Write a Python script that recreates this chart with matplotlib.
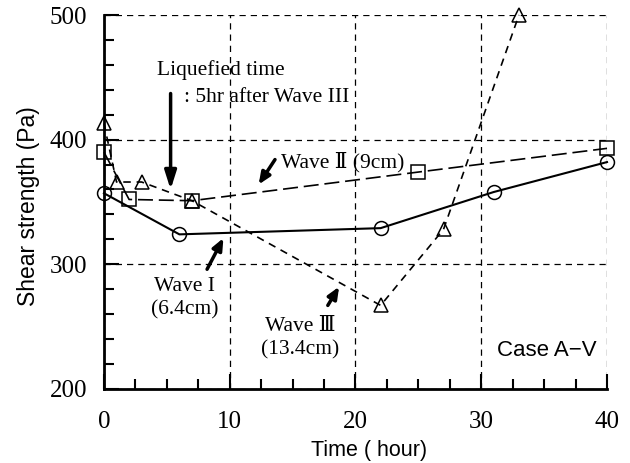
import matplotlib
matplotlib.use("Agg")
import matplotlib.pyplot as plt
from matplotlib.ticker import MultipleLocator

# Data
t_wave1 = [0, 6, 22, 31, 40]
s_wave1 = [357, 324, 329, 358, 382]

t_wave2 = [0, 2, 7, 25, 40]
s_wave2 = [390, 352, 351, 374, 393]

t_wave3 = [0, 1, 3, 7, 22, 27, 33]
s_wave3 = [413, 366, 366, 351, 267, 328, 500]

serif = ["Liberation Serif", "DejaVu Serif"]
sans = ["Liberation Sans", "DejaVu Sans"]

fig = plt.figure(figsize=(6.3, 4.63), dpi=100)
ax = fig.add_axes([0.165, 0.16, 0.7985, 0.8076])

mk = dict(markersize=10, markerfacecolor="none", markeredgecolor="black",
          markeredgewidth=1.1, color="black", clip_on=False, zorder=3)
ax.plot(t_wave1, s_wave1, "-", marker="o", lw=1.5, **mk)
ax.plot(t_wave2, s_wave2, marker="s", lw=1.2, dashes=(9, 3.5), **mk)
ax.plot(t_wave3, s_wave3, marker="^", lw=1.2, dashes=(4.5, 3.5), **mk)

ax.set_xlim(0, 40)
ax.set_ylim(200, 500)
ax.xaxis.set_major_locator(MultipleLocator(10))
ax.xaxis.set_minor_locator(MultipleLocator(2.5))
ax.yaxis.set_major_locator(MultipleLocator(100))
ax.yaxis.set_minor_locator(MultipleLocator(20))
ax.tick_params(which="major", direction="in", length=11, width=1.5,
               labelsize=18, pad=12)
ax.tick_params(which="minor", direction="in", length=7, width=1.5)
ax.tick_params(axis="x", which="major", pad=16)
ax.tick_params(top=False, right=False, which="both")
for lab in ax.get_xticklabels() + ax.get_yticklabels():
    lab.set_family(serif)

ax.grid(True, which="major", color="black", lw=0.9, dashes=(5, 4))
for side in ["top", "right"]:
    ax.spines[side].set_visible(False)
for side in ["left", "bottom"]:
    ax.spines[side].set_linewidth(2)

ax.set_xlabel("Time ( hour)", fontsize=15.5, family=sans)
ax.set_ylabel("Shear strength (Pa)", fontsize=16.5, family=sans)
ax.xaxis.set_label_coords(0.527, -0.136)
ax.yaxis.set_label_coords(-0.127, 0.49)

# annotations
ax.text(9.3, 456, "Liquefied time", fontsize=15.5, family=serif, ha="center", va="center")
ax.text(6.4, 434, ": 5hr after Wave III", fontsize=15.5, family=serif, ha="left", va="center")
ax.annotate("", xy=(5.3, 360), xytext=(5.3, 437),
            arrowprops=dict(arrowstyle="-|>,head_width=0.35,head_length=1.1",
                            lw=2.5, color="black", shrinkA=0, shrinkB=0))

ax.text(14.1, 382, "Wave \u2161 (9cm)", fontsize=15.5, family=serif, ha="left", va="center")
ax.annotate("", xy=(12.3, 364), xytext=(13.6, 384),
            arrowprops=dict(arrowstyle="-|>,head_width=0.3,head_length=0.7",
                            lw=2.5, color="black", shrinkA=0, shrinkB=0))

ax.text(6.4, 273, "Wave I\n(6.4cm)", fontsize=15.5, family=serif, ha="center",
        va="center", linespacing=1.3)
ax.annotate("", xy=(9.5, 321), xytext=(8.2, 296),
            arrowprops=dict(arrowstyle="-|>,head_width=0.3,head_length=0.7",
                            lw=2.5, color="black", shrinkA=0, shrinkB=0))

ax.text(15.6, 241, "Wave \u2162\n(13.4cm)", fontsize=15.5, family=serif, ha="center",
        va="center", linespacing=1.3)
ax.annotate("", xy=(18.7, 282), xytext=(17.8, 267),
            arrowprops=dict(arrowstyle="-|>,head_width=0.3,head_length=0.7",
                            lw=2.5, color="black", shrinkA=0, shrinkB=0))

ax.text(39.2, 231, "Case A\u2212V", fontsize=16, family=sans, ha="right", va="center")

fig.savefig("out.png", dpi=100)
